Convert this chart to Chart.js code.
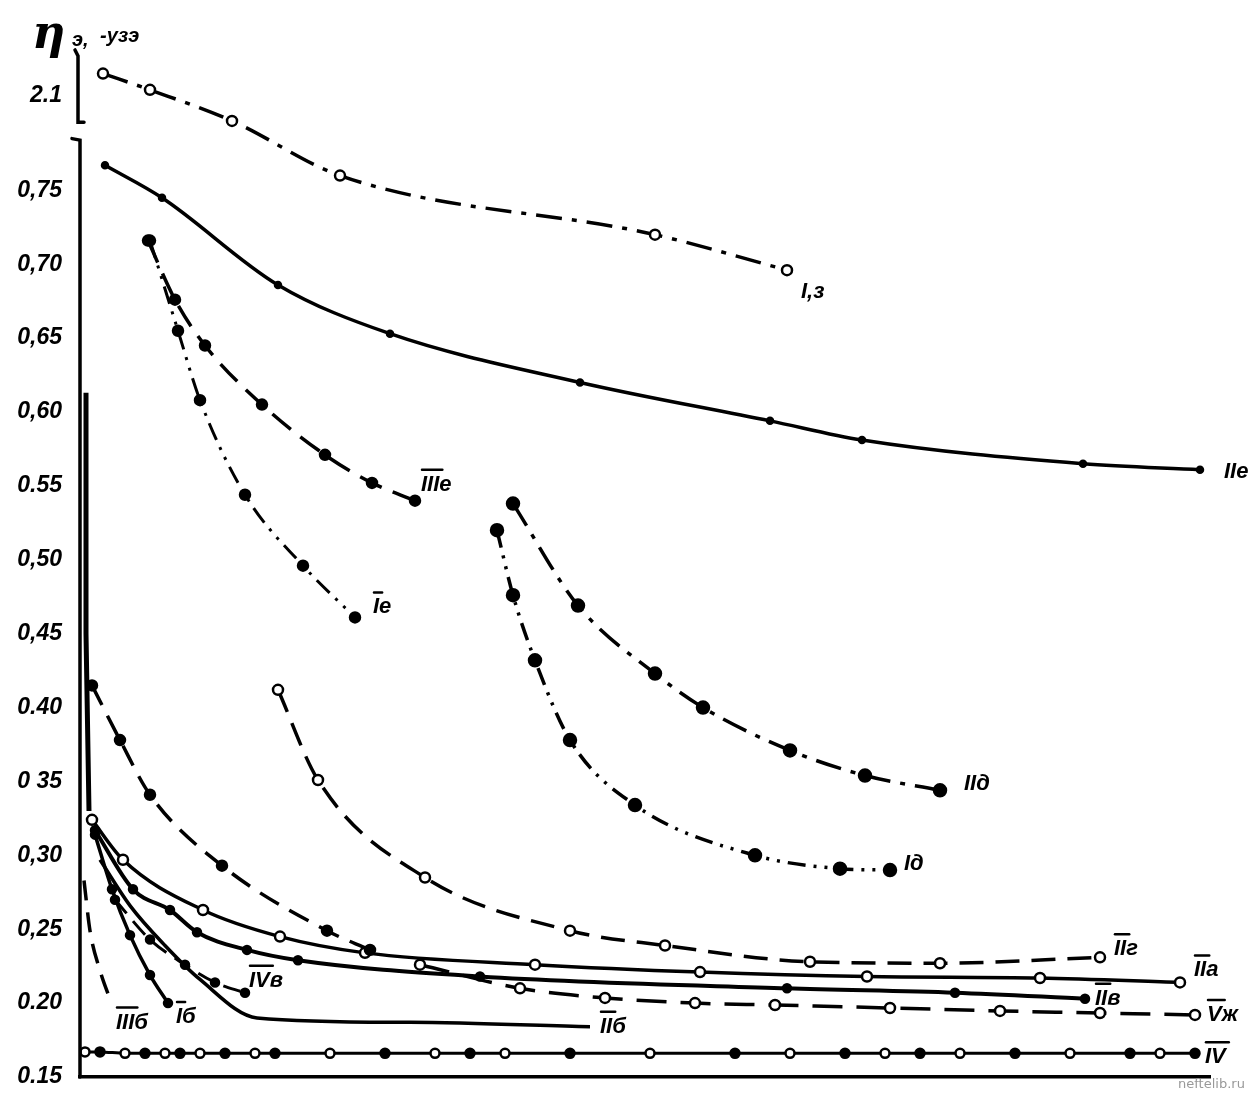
<!DOCTYPE html>
<html>
<head>
<meta charset="utf-8">
<script src="https://cdn.jsdelivr.net/npm/chart.js@4.4.1/dist/chart.umd.min.js"></script>
<style>
  body { margin: 0; background: #fff; }
  canvas { display: block; }
</style>
</head>
<body>
<canvas id="effChart" width="1260" height="1094"></canvas>
<script>
// y tick values and their printed labels (2.1 sits above the axis break)
var tickValues = [0.15, 0.20, 0.25, 0.30, 0.35, 0.40, 0.45, 0.50, 0.55, 0.60, 0.65, 0.70, 0.75, 0.814];
var tickLabels = ["0.15", "0.20", "0,25", "0,30", "0 35", "0.40", "0,45", "0,50", "0.55", "0,60", "0,65", "0,70", "0,75", "2.1"];

// curves
var xIz = [2.3, 7.0, 15.2, 26.0, 57.5, 70.7];
var yIz = [0.829, 0.818, 0.797, 0.760, 0.720, 0.696];

var xIIe = [2.5, 8.2, 19.8, 31.0, 50.0, 69.0, 78.2, 100.3, 112.0];
var yIIe = [0.767, 0.745, 0.686, 0.653, 0.620, 0.594, 0.581, 0.565, 0.561];

var xIIIe = [6.8, 9.5, 12.5, 18.2, 24.5, 29.2, 33.5];
var yIIIe = [0.716, 0.676, 0.645, 0.605, 0.571, 0.552, 0.540];

var xIe = [7.0, 9.8, 12.0, 16.5, 22.3, 27.5];
var yIe = [0.716, 0.655, 0.608, 0.544, 0.496, 0.461];

var xIId = [43.3, 49.8, 57.5, 62.3, 71.0, 78.5, 86.0];
var yIId = [0.538, 0.469, 0.423, 0.400, 0.371, 0.354, 0.344];

var xId = [41.7, 43.3, 45.5, 49.0, 55.5, 67.5, 76.0, 81.0];
var yId = [0.520, 0.476, 0.432, 0.378, 0.334, 0.300, 0.291, 0.290];

var xIIg = [19.8, 23.8, 34.5, 49.0, 58.5, 73.0, 86.0, 102.0];
var yIIg = [0.412, 0.351, 0.285, 0.249, 0.239, 0.228, 0.227, 0.231];

var xLeftDash = [1.2, 4.0, 7.0, 14.2, 24.7, 29.0];
var yLeftDash = [0.415, 0.378, 0.341, 0.293, 0.249, 0.236];

var xIIa = [1.2, 4.3, 12.3, 20.0, 28.5, 45.5, 62.0, 78.7, 96.0, 110.0];
var yIIa = [0.324, 0.297, 0.263, 0.245, 0.234, 0.226, 0.221, 0.218, 0.217, 0.214];

var xIIv = [1.5, 5.3, 9.0, 11.7, 16.7, 21.8, 40.0, 70.7, 87.5, 100.5];
var yIIv = [0.317, 0.277, 0.263, 0.248, 0.236, 0.229, 0.218, 0.210, 0.207, 0.203];

var xVzh = [34.0, 44.0, 52.5, 61.5, 69.5, 81.0, 92.0, 102.0, 111.5];
var yVzh = [0.226, 0.210, 0.2035, 0.200, 0.1987, 0.1967, 0.1947, 0.1933, 0.192];

var xIIb = [2.0, 5.0, 8.5, 12.0, 17.7, 33.0, 51.0];
var yIIb = [0.297, 0.266, 0.239, 0.216, 0.190, 0.187, 0.184];

var xIb = [1.5, 3.2, 5.0, 7.0, 8.8];
var yIb = [0.314, 0.277, 0.246, 0.219, 0.200];

var xIIIb = [0.4, 1.0, 2.0, 3.2];
var yIIIb = [0.283, 0.249, 0.222, 0.199];

var xIVv = [3.5, 7.0, 10.5, 13.5, 16.5];
var yIVv = [0.270, 0.243, 0.226, 0.214, 0.207];

var xIV = [0.5, 2.0, 4.5, 6.5, 8.5, 10.0, 12.0, 14.5, 17.5, 19.5, 25.0, 30.5, 35.5, 39.0, 42.5, 49.0, 57.0, 65.5, 71.0, 76.5, 80.5, 84.0, 88.0, 93.5, 99.0, 105.0, 108.0, 111.5];
var yIV = [0.167, 0.167, 0.166, 0.166, 0.166, 0.166, 0.166, 0.166, 0.166, 0.166, 0.166, 0.166, 0.166, 0.166, 0.166, 0.166, 0.166, 0.166, 0.166, 0.166, 0.166, 0.166, 0.166, 0.166, 0.166, 0.166, 0.166, 0.166];

var xSpike = [0.6, 0.6, 0.9];
var ySpike = [0.613, 0.45, 0.33];

function pts(xs, ys) {
    var out = [];
    for (var i = 0; i < xs.length; i++) out.push({ x: xs[i], y: ys[i] });
    return out;
}

function curve(name, xs, ys, opt) {
    return {
        label: name,
        data: pts(xs, ys),
        borderColor: "#000",
        borderWidth: opt.w || 3.5,
        borderDash: opt.dash || [],
        pointRadius: opt.r === undefined ? 5 : opt.r,
        pointBackgroundColor: opt.open ? "#fff" : "#000",
        pointBorderColor: "#000",
        pointBorderWidth: 2.5,
        cubicInterpolationMode: opt.straight ? "default" : "monotone",
        tension: opt.straight ? 0 : 0.4,
        tag: opt.tag
    };
}

var dashDot = [26, 10, 5, 10];
var dashDotDot = [18, 8, 3, 8, 3, 8];
var dashed = [24, 12];

var datasets = [
    curve("Iз", xIz, yIz, { dash: dashDot, open: true, tag: { t: "I,з", dx: 14, dy: 22 } }),
    curve("IIе", xIIe, yIIe, { r: 3, tag: { t: "IIе", dx: 24, dy: 2 } }),
    curve("IIIе", xIIIe, yIIIe, { dash: dashed, tag: { t: "IIIе", dx: 6, dy: -16, bar: true } }),
    curve("Iе", xIe, yIe, { dash: dashDotDot, w: 3, tag: { t: "Iе", dx: 18, dy: -10, bar: true } }),
    curve("IIд", xIId, yIId, { dash: dashDot, r: 6, tag: { t: "IIд", dx: 24, dy: -6 } }),
    curve("Iд", xId, yId, { dash: dashDotDot, r: 6, tag: { t: "Iд", dx: 14, dy: -6 } }),
    curve("IIг", xIIg, yIIg, { dash: dashed, open: true, tag: { t: "IIг", dx: 14, dy: -8, bar: true } }),
    curve("left", xLeftDash, yLeftDash, { dash: [22, 12] }),
    curve("IIа", xIIa, yIIa, { open: true, tag: { t: "IIа", dx: 14, dy: -12, bar: true } }),
    curve("IIв", xIIv, yIIv, { w: 4, r: 4, tag: { t: "IIв", dx: 10, dy: 0, bar: true } }),
    curve("Vж", xVzh, yVzh, { dash: [30, 14], open: true, tag: { t: "Vж", dx: 12, dy: 0, bar: true } }),
    curve("IIб", xIIb, yIIb, { r: 0, tag: { t: "IIб", dx: 10, dy: 0, bar: true } }),
    curve("Iб", xIb, yIb, { r: 4, tag: { t: "Iб", dx: 8, dy: 14, bar: true } }),
    curve("IIIб", xIIIb, yIIIb, { dash: [20, 12], r: 0, tag: { t: "IIIб", dx: 4, dy: 18, bar: true } }),
    curve("IVв", xIVv, yIVv, { dash: [18, 10], w: 3, r: 4, tag: { t: "IVв", dx: 4, dy: -12, bar: true } }),
    curve("IV", xIV, yIV, { w: 3, r: 4.5, tag: { t: "IV", dx: 10, dy: 4, bar: true } }),
    curve("spike", xSpike, ySpike, { w: 5, r: 0, straight: true })
];
// bottom line alternates open and filled markers
datasets[15].pointBackgroundColor = function (ctx) { return ctx.dataIndex % 2 ? "#000" : "#fff"; };

var labelFont = 'bold italic 22px "Liberation Sans"';

var decorPlugin = {
    id: "decor",
    afterDatasetsDraw: function (chart) {
        var ctx = chart.ctx, ys = chart.scales.y, xs = chart.scales.x;
        var ax = xs.left;
        ctx.save();
        ctx.strokeStyle = "#000";
        ctx.fillStyle = "#000";
        ctx.lineWidth = 3.5;
        ctx.lineCap = "round";
        // broken y axis: lower part and upper bracket
        ctx.beginPath();
        ctx.moveTo(ax - 8, ys.getPixelForValue(0.785));
        ctx.lineTo(ax, ys.getPixelForValue(0.784));
        ctx.lineTo(ax, ys.bottom);
        ctx.moveTo(ax - 5, ys.getPixelForValue(0.845));
        ctx.lineTo(ax - 2, ys.getPixelForValue(0.841));
        ctx.lineTo(ax - 2, ys.getPixelForValue(0.796));
        ctx.lineTo(ax + 4, ys.getPixelForValue(0.796));
        ctx.stroke();

        // curve labels next to the last point
        ctx.font = labelFont;
        ctx.textBaseline = "middle";
        ctx.textAlign = "left";
        chart.data.datasets.forEach(function (ds, i) {
            if (!ds.tag) return;
            var meta = chart.getDatasetMeta(i);
            var last = meta.data[meta.data.length - 1];
            var tx = last.x + ds.tag.dx, ty = last.y + ds.tag.dy;
            ctx.fillText(ds.tag.t, tx, ty);
            if (ds.tag.bar) {
                var roman = ds.tag.t.replace(/[^IV]/g, "");
                var w = ctx.measureText(roman).width;
                ctx.lineWidth = 2.5;
                ctx.beginPath();
                ctx.moveTo(tx + 1, ty - 15);
                ctx.lineTo(tx + w + 3, ty - 15);
                ctx.stroke();
            }
        });

        // axis title
        ctx.textBaseline = "alphabetic";
        ctx.font = 'italic bold 46px "DejaVu Serif"';
        ctx.fillText("η", 32, 48);
        ctx.font = 'bold italic 20px "Liberation Sans"';
        ctx.fillText("э,", 72, 46);
        ctx.fillText("-узэ", 100, 42);

        ctx.font = '13px "DejaVu Sans"';
        ctx.fillStyle = "#999";
        ctx.fillText("neftelib.ru", 1178, 1088);
        ctx.restore();
    }
};

var chartCanvas = document.getElementById("effChart").getContext("2d");
var effChart = new Chart(chartCanvas, {
    type: "line",
    data: { datasets: datasets },
    options: {
        responsive: false,
        animation: false,
        layout: { padding: { top: 13, right: 50, bottom: 17, left: 0 } },
        plugins: { legend: { display: false }, tooltip: { enabled: false } },
        scales: {
            x: {
                type: "linear",
                min: 0,
                max: 113,
                ticks: { display: false },
                grid: { display: false, drawTicks: false },
                border: { display: true, color: "#000", width: 3.5 },
                afterFit: function (scale) { scale.height = 0; scale.paddingLeft = 0; scale.paddingRight = 0; }
            },
            y: {
                type: "linear",
                min: 0.15,
                max: 0.87,
                grid: { display: false, drawTicks: false },
                border: { display: false },
                ticks: {
                    color: "#000",
                    padding: 18,
                    font: { family: "Liberation Sans", size: 23, style: "italic", weight: "bold" },
                    callback: function (v) {
                        var k = tickValues.indexOf(v);
                        return k >= 0 ? tickLabels[k] : "";
                    }
                },
                afterBuildTicks: function (scale) {
                    scale.ticks = tickValues.map(function (v) { return { value: v }; });
                },
                afterFit: function (scale) {
                    scale.width = 80;
                    scale.paddingTop = 0;
                    scale.paddingBottom = 0;
                }
            }
        }
    },
    plugins: [decorPlugin]
});
</script>
</body>
</html>
